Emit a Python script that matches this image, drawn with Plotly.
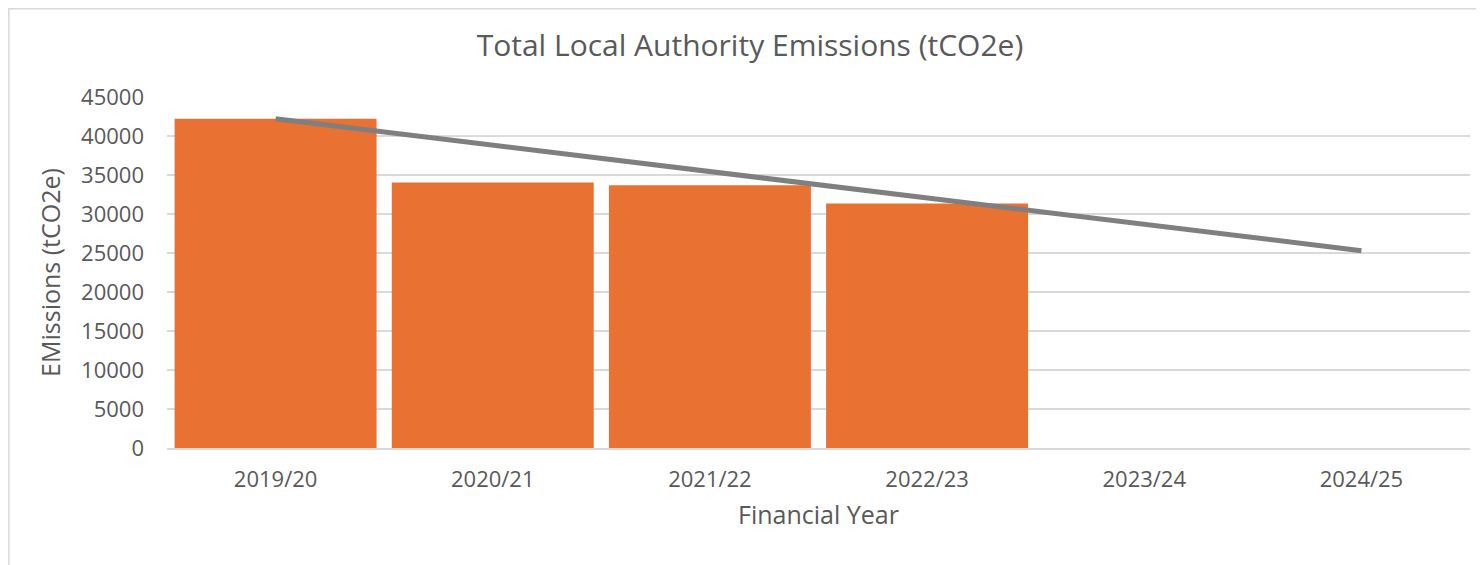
import plotly.graph_objects as go

# data
years = ["2019/20", "2020/21", "2021/22", "2022/23", "2023/24", "2024/25"]
emissions = [42200, 34050, 33700, 31350, None, None]
target = [42200, 38800, 35450, 32050, 28700, 25300]

BAR_ORANGE = "#E97132"
LINE_GREY = "#7F7F7F"
TEXT = "#595959"
GRID = "#D9D9D9"
FONT = "Open Sans, Liberation Sans, sans-serif"

fig = go.Figure()

fig.add_trace(go.Bar(
    x=years,
    y=emissions,
    marker=dict(color=BAR_ORANGE, line_width=0),
    name="Emissions",
))

fig.add_trace(go.Scatter(
    x=years,
    y=target,
    mode="lines",
    line=dict(color=LINE_GREY, width=5),
    name="Trajectory",
))

# thin frame round the chart (Excel chart border), hugging the figure edge
fig.add_shape(
    type="rect", xref="paper", yref="paper",
    x0=-0.1214, x1=1.05, y0=-0.5, y1=1.2514,
    line=dict(color="#D9D9D9", width=1.5),
    fillcolor="rgba(0,0,0,0)", layer="below",
)

fig.update_layout(
    width=1484,
    height=565,
    paper_bgcolor="white",
    plot_bgcolor="white",
    font=dict(family=FONT, color=TEXT, size=20),
    margin=dict(l=159, r=22, t=89, b=125),
    showlegend=False,
    bargap=0.07,
    title=dict(
        text="Total Local Authority Emissions (tCO2e)",
        font=dict(size=30, color=TEXT, family=FONT),
        x=0.5, xanchor="center",
        y=0.933, yanchor="middle",
    ),
    xaxis=dict(
        title=dict(text="Financial Year", font=dict(size=25, color=TEXT), standoff=14),
        showgrid=False,
        showline=True,
        linecolor=GRID,
        linewidth=1.5,
        ticks="",
        tickfont=dict(size=22, color=TEXT),
        ticklabelstandoff=11,
    ),
    yaxis=dict(
        title=dict(text="EMissions (tCO2e)", font=dict(size=25, color=TEXT), standoff=13),
        range=[0, 45000],
        dtick=5000,
        tickformat="d",
        gridcolor=GRID,
        gridwidth=1.5,
        zeroline=False,
        showline=False,
        ticks="",
        tickfont=dict(size=22, color=TEXT),
        ticklabelstandoff=22,
    ),
)

fig.write_html("out.html")
